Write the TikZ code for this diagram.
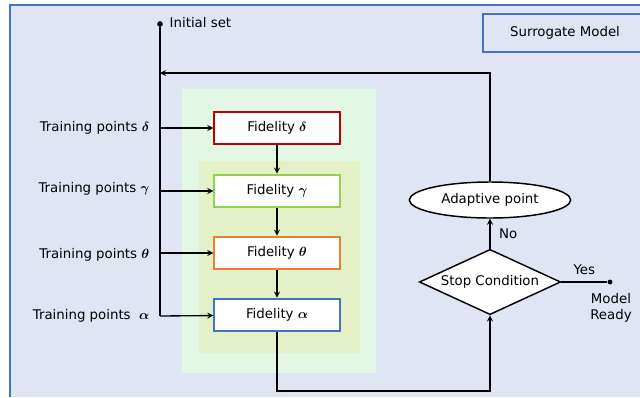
\documentclass[tikz,border=0pt]{standalone}
\usepackage{amsmath}
\usepackage{fontspec}
\setmainfont{DejaVu Sans}
\usepackage{tikz}
\definecolor{panelblue}{HTML}{DFE5F3}
\definecolor{frameblue}{HTML}{4472C4}
\definecolor{outergreen}{HTML}{E2F7E4}
\definecolor{innergreen}{HTML}{E3F0C8}
\definecolor{fidred}{HTML}{C00000}
\definecolor{fidgreen}{HTML}{92D050}
\definecolor{fidorange}{HTML}{ED7D31}
\usetikzlibrary{positioning, arrows, shapes.geometric}
\tikzstyle{arrow} = [line width=1pt,->,>=stealth]

\begin{document}
\begin{tikzpicture}[x=0.75pt,y=-0.75pt]
                \tikzstyle{every node}=[font=\fontsize{10}{12}\selectfont]
                \tikzstyle{fidelity} = [rectangle, draw, fill=white, line width=1.5pt, minimum width=94pt, minimum height=24.5pt]
                \tikzstyle{stop} = [diamond, draw, fill=white, line width=1.1pt, aspect=2.2, inner sep=0pt, minimum width=106pt, minimum height=49pt]
                \tikzstyle{adaptive} = [ellipse, draw, fill=white, line width=1.1pt, minimum width=121pt, minimum height=27pt]
                \tikzstyle{dot} = [circle, fill, inner sep=1.5pt]
                \tikzstyle{line} = [line width=1pt]

                \useasboundingbox (0,0) rectangle (640,397);

                % panel and nested levels
                \fill[panelblue] (10,5) rectangle (640,397);
                \draw[frameblue, line width=1.5pt] (10,397) -- (10,5) -- (640,5);
                \fill[outergreen] (182,89) rectangle (376,373);
                \fill[innergreen] (199,161) rectangle (360,353);

                \node[rectangle, draw=frameblue, line width=1.5pt, minimum width=123pt, minimum height=28.5pt](title) at (565,33) {Surrogate Model};

                % initial set
                \node[dot](init) at (160,24) {};
                \node[anchor=west](initlbl) at (165,23) {Initial set};

                % fidelity levels
                \node[fidelity, draw=fidred](fd) at (277,128) {Fidelity $\boldsymbol{\delta}$};
                \node[fidelity, draw=fidgreen](fg) at (277,191) {Fidelity $\boldsymbol{\gamma}$};
                \node[fidelity, draw=fidorange](ft) at (277,253) {Fidelity $\boldsymbol{\theta}$};
                \node[fidelity, draw=frameblue](fa) at (277,315) {Fidelity $\boldsymbol{\alpha}$};

                \draw[arrow] (fd) -- (fg);
                \draw[arrow] (fg) -- (ft);
                \draw[arrow] (ft) -- (fa);

                % training points along the spine
                \coordinate (s0) at (160,73);
                \coordinate (s1) at (160,128);
                \coordinate (s2) at (160,191);
                \coordinate (s3) at (160,253);
                \coordinate (s4) at (160,316);

                \node[anchor=east](td) at (154,128) {Training points $\boldsymbol{\delta}$};
                \node[anchor=east](tg) at (154,189) {Training points $\boldsymbol{\gamma}$};
                \node[anchor=east](tt) at (154,255) {Training points $\boldsymbol{\theta}$};
                \node[anchor=east](ta) at (154,316) {Training points\ \ $\boldsymbol{\alpha}$};

                \draw[line] (init) -- (s4);
                \draw[arrow] (s1) -- (fd);
                \draw[arrow] (s2) -- (fg);
                \draw[arrow] (s3) -- (ft);
                \draw[arrow] (s4) -- (fa);

                % adaptive loop
                \node[stop](cond) at (490,282) {Stop Condition};
                \node[adaptive](adapt) at (490,200) {Adaptive point};
                \node[dot, inner sep=1.3pt](yes) at (610,282) {};
                \coordinate (bend) at (277,391);

                \draw[arrow] (fa) -- (bend) -| (cond);
                \draw[arrow] (cond) -- node[right, xshift=3pt]{No} (adapt);
                \draw[arrow] (adapt) |- (s0);
                \draw[line] (cond) -- node[above, yshift=2pt]{Yes} (yes);
                \node[below, align=center](ready) at (611,289) {Model\\Ready};
\end{tikzpicture}
\end{document}
